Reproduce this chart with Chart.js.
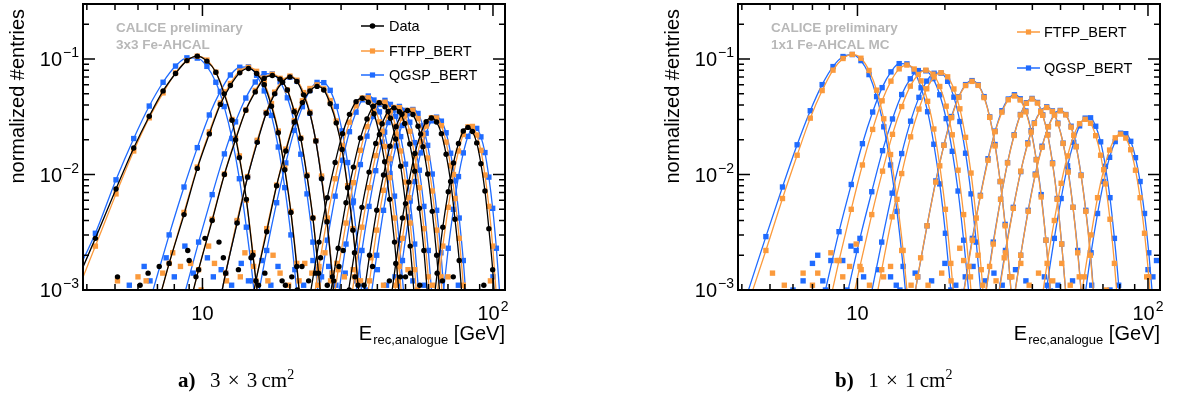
<!DOCTYPE html>
<html>
<head>
<meta charset="utf-8">
<script src="https://cdn.jsdelivr.net/npm/chart.js@4.4.0/dist/chart.umd.min.js"></script>
<style>
    body { margin: 0; background: #fff; width: 1179px; height: 405px; overflow: hidden; position: relative; }
    canvas { position: absolute; left: 0; top: 0; }
    .cap { position: absolute; top: 367px; font-family: "Liberation Serif", "DejaVu Serif", serif; font-size: 21px; white-space: nowrap; word-spacing: 2px; }
    .cap sup { font-size: 14px; }
</style>
</head>
<body>
<canvas id="panelA" width="1179" height="405"></canvas>
<canvas id="panelB" width="1179" height="405"></canvas>
<div class="cap" style="left:178px"><b>a)</b>&nbsp; 3 × 3&thinsp;cm<sup>2</sup></div>
<div class="cap" style="left:835px"><b>b)</b>&nbsp; 1 × 1&thinsp;cm<sup>2</sup></div>
<script>
// beam energies (GeV), one histogram per energy
const energies = [10, 15, 18, 20, 25, 35, 40, 45, 50, 60, 80];

// axis ticks
const xMajorTicks = [10, 100];
const xTickExp = ['', '2'];
const xMinorTicks = [4, 5, 6, 7, 8, 9, 20, 30, 40, 50, 60, 70, 80, 90];
const yMajorTicks = [0.001, 0.01, 0.1];
const yTickExp = ['\u22123', '\u22122', '\u22121'];
const yMinorTicks = [0.002, 0.003, 0.004, 0.005, 0.006, 0.007, 0.008, 0.009,
    0.02, 0.03, 0.04, 0.05, 0.06, 0.07, 0.08, 0.09, 0.2, 0.3];

// ---- a) 3x3 Fe-AHCAL : bin centres [GeV] ----
const binsA = [
    [3.52, 4.28, 5.04, 5.80, 6.56, 7.32, 8.08, 8.84, 9.60, 10.36, 11.12, 11.88, 12.64, 13.40, 14.16, 14.92, 15.68],
    [6.72, 7.68, 8.64, 9.60, 10.56, 11.52, 12.48, 13.44, 14.40, 15.36, 16.32, 17.28, 18.24, 19.20, 20.16, 21.12, 22.08],
    [8.6, 9.7, 10.8, 11.9, 13.0, 14.1, 15.2, 16.3, 17.4, 18.5, 19.6, 20.7, 21.8, 22.9, 24.0, 25.1, 26.2],
    [10.88, 12.02, 13.16, 14.30, 15.44, 16.58, 17.72, 18.86, 20.00, 21.14, 22.28, 23.42, 24.56, 25.70, 26.84, 27.98, 29.12],
    [13.92, 15.28, 16.64, 18.00, 19.36, 20.72, 22.08, 23.44, 24.80, 26.16, 27.52, 28.88, 30.24, 31.60, 32.96, 34.32, 35.68],
    [21.74, 23.46, 25.18, 26.90, 28.62, 30.34, 32.06, 33.78, 35.50, 37.22, 38.94, 40.66, 42.38, 44.10, 45.82, 47.54, 49.26],
    [25.56, 27.44, 29.32, 31.20, 33.08, 34.96, 36.84, 38.72, 40.60, 42.48, 44.36, 46.24, 48.12, 50.00, 51.88, 53.76, 55.64],
    [29.28, 31.32, 33.36, 35.40, 37.44, 39.48, 41.52, 43.56, 45.60, 47.64, 49.68, 51.72, 53.76, 55.80, 57.84, 59.88, 61.92],
    [33.2, 35.4, 37.6, 39.8, 42.0, 44.2, 46.4, 48.6, 50.8, 53.0, 55.2, 57.4, 59.6, 61.8, 64.0, 66.2, 68.4],
    [41.24, 43.76, 46.28, 48.80, 51.32, 53.84, 56.36, 58.88, 61.40, 63.92, 66.44, 68.96, 71.48, 74.00, 76.52, 79.04, 81.56],
    [58.32, 61.28, 64.24, 67.20, 70.16, 73.12, 76.08, 79.04, 82.00, 84.96, 87.92, 90.88, 93.84, 96.80, 99.76, 102.72, 105.68]
];
const dataA = [
    [.0009, .0028, .0075, .0170, .032, .053, .075, .097, .106, .096, .077, .050, .0295, .014, .0061, .0020, .0007],
    [.0005, .0017, .0045, .0113, .0225, .0405, .059, .076, .083, .075, .060, .039, .023, .011, .0047, .0016, .0005],
    [.00045, .0015, .0040, .0100, .0200, .036, .052, .068, .072, .067, .054, .035, .0205, .0097, .0042, .0014, .00045],
    [.0004, .0014, .0038, .0095, .019, .034, .050, .063, .070, .064, .049, .034, .0195, .0092, .0039, .0013, .0004],
    [.00035, .0012, .0032, .0080, .016, .0285, .042, .053, .058, .054, .041, .028, .0165, .0077, .0033, .0011, .00035],
    [.0003, .0009, .0026, .0063, .0127, .0226, .0332, .0428, .0458, .0423, .0336, .0222, .0129, .0061, .0026, .0009, .0003],
    [.00025, .00085, .0023, .0057, .0116, .0207, .0303, .0390, .0418, .0386, .0307, .0203, .0118, .0056, .0024, .0008, .00025],
    [.00023, .00076, .0021, .0052, .0105, .0186, .0275, .0352, .0378, .0350, .0277, .0184, .0107, .0051, .0022, .00074, .00023],
    [.00022, .0007, .0020, .0049, .0099, .0176, .0260, .0333, .0359, .0331, .0262, .0174, .0101, .0048, .0020, .0007, .00022],
    [.00019, .0006, .0017, .0042, .0086, .0152, .0224, .0287, .0309, .0285, .0226, .0150, .0087, .0041, .0018, .0006, .00019],
    [.00016, .0005, .0014, .0035, .0071, .0126, .0186, .0238, .0256, .0236, .0188, .0124, .0072, .0034, .0015, .0005, .00016]
];
const ftfpA = [
    [.0007, .0024, .0068, .0160, .031, .051, .076, .097, .106, .098, .077, .052, .030, .0145, .0060, .0021, .00065],
    [.0005, .0017, .0047, .0116, .0234, .0416, .0615, .0787, .0848, .0783, .0619, .0412, .0238, .0114, .0048, .0017, .0005],
    [.00044, .0015, .0041, .0101, .0205, .0362, .0535, .0685, .0738, .0681, .0539, .0358, .0207, .0099, .0042, .0015, .00044],
    [.00042, .0014, .0040, .0096, .0198, .0345, .0517, .0653, .0712, .0656, .0513, .0347, .0196, .0097, .0040, .0014, .00042],
    [.00036, .0012, .0034, .0081, .0166, .0293, .0435, .0556, .0598, .0552, .0437, .0291, .0168, .0080, .0034, .0012, .00036],
    [.00015, .00052, .0016, .0042, .0092, .0177, .0284, .0394, .0460, .0462, .0391, .0286, .0175, .0094, .0042, .0016, .00052],
    [.00013, .00048, .0015, .0038, .0085, .0162, .0260, .0360, .0420, .0423, .0358, .0262, .0160, .0086, .0038, .0015, .00048],
    [.00012, .00043, .0013, .0035, .0077, .0146, .0235, .0325, .0381, .0379, .0323, .0237, .0145, .0077, .0034, .0013, .00043],
    [.00011, .00041, .0012, .0033, .0073, .0137, .0224, .0307, .0359, .0361, .0305, .0222, .0139, .0072, .0033, .0013, .00041],
    [.0001, .00035, .0011, .0028, .0063, .0118, .0193, .0263, .0311, .0309, .0265, .0191, .0119, .0062, .0028, .0011, .00035],
    [.00008, .0003, .0009, .0024, .0052, .0100, .0160, .0222, .0259, .0261, .0220, .0162, .0099, .0053, .0024, .0009, .0003]
];
const qgspA = [
    [.0011, .0031, .0090, .0205, .0392, .0630, .0870, .1025, .1020, .0865, .0630, .0388, .0205, .0092, .0035, .0012, .00032],
    [.00095, .0030, .0078, .0171, .0328, .0525, .0728, .0850, .0856, .0724, .0530, .0325, .0173, .0077, .0030, .00096, .00027],
    [.00085, .0026, .0067, .0151, .0286, .0460, .0633, .0747, .0743, .0636, .0462, .0284, .0150, .0068, .0026, .00083, .00023],
    [.00042, .0014, .0039, .0095, .0194, .0342, .0507, .0648, .0698, .0645, .0509, .0340, .0196, .0094, .0039, .0014, .00042],
    [.0002, .0007, .0022, .0057, .0126, .0241, .0387, .0535, .0628, .0625, .0536, .0389, .0239, .0127, .0057, .0022, .0007],
    [.00007, .00029, .00095, .0027, .0065, .0133, .0235, .0347, .0444, .0479, .0442, .0349, .0233, .0134, .0065, .0027, .00095],
    [.00007, .00026, .00087, .0025, .0059, .0122, .0215, .0318, .0407, .0439, .0405, .0320, .0213, .0123, .0059, .0025, .00087],
    [.00006, .00023, .00077, .0022, .0053, .0108, .0191, .0282, .0361, .0389, .0359, .0284, .0189, .0109, .0053, .0022, .00077],
    [.00006, .00022, .00072, .0020, .0049, .0102, .0177, .0266, .0336, .0366, .0338, .0264, .0179, .0101, .0049, .0021, .00072],
    [.00005, .00019, .00062, .0018, .0043, .0087, .0154, .0228, .0292, .0314, .0290, .0230, .0153, .0088, .0042, .0018, .00062],
    [.00002, .00008, .00028, .00087, .0023, .0050, .0096, .0154, .0214, .0249, .0251, .0212, .0155, .0095, .0051, .0023, .00087]
];
// low-statistics entries in the tails, [E, entries]
const tailDataA = [[5.1, .0013], [6.1, .0011], [6.5, .0014], [7.1, .0016], [8.9, .0022], [9.0, .0018], [9.5, .0013],
    [10.2, .0028], [11.4, .0026], [11.8, .0019], [13.3, .0015], [14.7, .0019], [15.6, .0011], [16.4, .0014],
    [18.8, .0012], [19.3, .0011], [20.3, .0013], [21.2, .0010], [22.0, .0016], [23.2, .0012], [24.5, .0014],
    [25.5, .0019], [26.9, .0011], [28.3, .0012], [29.5, .0016], [30.5, .0022], [32, .0010], [33.5, .0013],
    [36, .0011], [38.5, .0016], [44, .0012], [48, .0013], [50, .0013], [52, .0014], [56, .0011], [67, .0012],
    [73, .0013], [93, .0011]];
const tailFtfpA = [[5.1, .0012], [6.0, .0013], [6.4, .0012], [7.3, .0014], [7.9, .0021], [8.4, .0016], [9.1, .0017],
    [9.9, .0010], [10.5, .0024], [11.0, .0017], [12.1, .0012], [13.5, .0013], [14.0, .0021], [15.0, .0016],
    [16.8, .0012], [17.5, .0020], [18.5, .0014], [19.8, .0011], [21.5, .0012], [22.5, .0017], [23.8, .0014],
    [25.0, .0011], [26.4, .0021], [27.6, .0012], [29.0, .0017], [30.8, .0013], [33.0, .0015], [35.0, .0012],
    [38.0, .0019], [42.0, .0011], [47, .0012], [51, .0015], [55, .0010], [62, .0011], [70, .0013], [98, .0012]];
const tailQgspA = [[5.6, .0011], [6.3, .0016], [6.6, .0012], [7.5, .0019], [8.0, .0013], [8.7, .0024], [9.3, .0014],
    [10.4, .0019], [10.9, .0013], [11.6, .0015], [12.6, .0011], [13.6, .0017], [14.4, .0012], [16.0, .0018],
    [17.2, .0011], [18.2, .0016], [20.8, .0015], [22.3, .0011], [24.0, .0018], [25.7, .0013], [27.2, .0016],
    [28.8, .0011], [31.0, .0014], [33.8, .0012], [36.5, .0010], [40.0, .0015], [43, .0011], [46, .0013],
    [53, .0012], [58, .0011], [66, .0012], [76, .0011], [100, .0013]];

// ---- b) 1x1 Fe-AHCAL MC ----
const binsB = [
    [4.16, 4.84, 5.52, 6.20, 6.88, 7.56, 8.24, 8.92, 9.60, 10.28, 10.96, 11.64, 12.32, 13.00, 13.68, 14.36, 15.04],
    [7.76, 8.64, 9.52, 10.40, 11.28, 12.16, 13.04, 13.92, 14.80, 15.68, 16.56, 17.44, 18.32, 19.20, 20.08, 20.96, 21.84],
    [9.2, 10.2, 11.2, 12.2, 13.2, 14.2, 15.2, 16.2, 17.2, 18.2, 19.2, 20.2, 21.2, 22.2, 23.2, 24.2, 25.2],
    [11.08, 12.12, 13.16, 14.20, 15.24, 16.28, 17.32, 18.36, 19.40, 20.44, 21.48, 22.52, 23.56, 24.60, 25.64, 26.68, 27.72],
    [14.88, 16.12, 17.36, 18.60, 19.84, 21.08, 22.32, 23.56, 24.80, 26.04, 27.28, 28.52, 29.76, 31.00, 32.24, 33.48, 34.72],
    [21.58, 23.22, 24.86, 26.50, 28.14, 29.78, 31.42, 33.06, 34.70, 36.34, 37.98, 39.62, 41.26, 42.90, 44.54, 46.18, 47.82],
    [25.82, 27.58, 29.34, 31.10, 32.86, 34.62, 36.38, 38.14, 39.90, 41.66, 43.42, 45.18, 46.94, 48.70, 50.46, 52.22, 53.98],
    [28.16, 30.24, 32.32, 34.40, 36.48, 38.56, 40.64, 42.72, 44.80, 46.88, 48.96, 51.04, 53.12, 55.20, 57.28, 59.36, 61.44],
    [31.98, 34.22, 36.46, 38.70, 40.94, 43.18, 45.42, 47.66, 49.90, 52.14, 54.38, 56.62, 58.86, 61.10, 63.34, 65.58, 67.82],
    [39.68, 42.32, 44.96, 47.60, 50.24, 52.88, 55.52, 58.16, 60.80, 63.44, 66.08, 68.72, 71.36, 74.00, 76.64, 79.28, 81.92],
    [53.62, 56.98, 60.34, 63.70, 67.06, 70.42, 73.78, 77.14, 80.50, 83.86, 87.22, 90.58, 93.94, 97.30, 100.66, 104.02, 107.38]
];
const ftfpB = [
    [.0007, .0022, .0062, .0147, .0308, .0534, .0802, .1012, .1098, .1017, .0797, .0538, .0304, .0149, .0061, .0022, .00065],
    [.00053, .0018, .0050, .0121, .0246, .0435, .0644, .0823, .0888, .0820, .0648, .0431, .0248, .0119, .0050, .0017, .00053],
    [.00048, .0016, .0045, .0107, .0223, .0388, .0583, .0736, .0802, .0740, .0579, .0391, .0221, .0109, .0045, .0016, .00048],
    [.00045, .0015, .0043, .0102, .0212, .0369, .0553, .0700, .0762, .0702, .0551, .0371, .0210, .0103, .0042, .0015, .00045],
    [.00038, .0013, .0036, .0086, .0179, .0311, .0466, .0590, .0641, .0592, .0464, .0313, .0177, .0087, .0036, .0013, .00038],
    [.00029, .00095, .0027, .0065, .0133, .0235, .0347, .0444, .0479, .0442, .0349, .0233, .0134, .0064, .0027, .00095, .00029],
    [.00027, .0009, .0025, .0061, .0126, .0218, .0328, .0414, .0451, .0416, .0326, .0220, .0124, .0061, .0025, .0009, .00027],
    [.00023, .00075, .0021, .0051, .0107, .0184, .0277, .0350, .0381, .0352, .0275, .0186, .0105, .0052, .0021, .00076, .00023],
    [.00021, .0007, .0020, .0048, .0099, .0172, .0259, .0327, .0356, .0329, .0257, .0174, .0098, .0048, .0020, .0007, .00021],
    [.00018, .0006, .0017, .0040, .0084, .0145, .0219, .0276, .0301, .0278, .0217, .0147, .0083, .0041, .0017, .0006, .00018],
    [.00014, .00045, .0013, .0030, .0063, .0110, .0163, .0208, .0224, .0207, .0164, .0109, .0063, .0031, .0013, .00045, .00014]
];
const qgspB = [
    [.0009, .0029, .0078, .0181, .0357, .0601, .0861, .1052, .1095, .0970, .0734, .0473, .0259, .0121, .0048, .0016, .00047],
    [.0010, .0032, .0082, .0185, .0348, .0566, .0775, .0913, .0909, .0778, .0564, .0350, .0183, .0083, .0031, .0010, .00029],
    [.0009, .0028, .0071, .0161, .0303, .0493, .0675, .0795, .0792, .0677, .0491, .0305, .0159, .0072, .0027, .0009, .00025],
    [.00085, .0026, .0069, .0152, .0290, .0466, .0644, .0754, .0756, .0642, .0468, .0288, .0153, .0068, .0026, .00085, .00024],
    [.00039, .0013, .0036, .0088, .0180, .0318, .0471, .0601, .0651, .0599, .0473, .0316, .0182, .0087, .0037, .0013, .00039],
    [.00029, .00097, .0028, .0066, .0137, .0238, .0357, .0451, .0491, .0453, .0355, .0240, .0135, .0067, .0027, .00098, .00029],
    [.00027, .0009, .0026, .0061, .0127, .0221, .0331, .0419, .0456, .0421, .0329, .0222, .0126, .0062, .0025, .0009, .00027],
    [.00023, .00076, .0022, .0052, .0106, .0188, .0280, .0354, .0386, .0356, .0279, .0187, .0108, .0052, .0022, .00075, .00023],
    [.00022, .00072, .0020, .0049, .0101, .0176, .0260, .0333, .0359, .0331, .0262, .0175, .0099, .0049, .0021, .0007, .00022],
    [.0001, .00035, .0011, .0028, .0062, .0119, .0190, .0264, .0308, .0310, .0262, .0192, .0118, .0063, .0028, .0011, .00035],
    [.00007, .00026, .0008, .0021, .0046, .0087, .0141, .0193, .0228, .0226, .0194, .0140, .0087, .0046, .0021, .0008, .00026]
];
const tailFtfpB = [[5.1, .0014], [5.6, .0011], [6.5, .0014], [7.0, .0011], [7.3, .0014], [8.1, .0021], [8.5, .0018],
    [8.9, .0013], [9.4, .0016], [9.9, .0025], [10.3, .0015], [11.0, .0011], [12.3, .0013], [13.0, .0016],
    [14.2, .0022], [15.3, .0011], [16.5, .0019], [17.5, .0011], [19.5, .0014], [21.0, .0012], [22.5, .0023],
    [23.2, .0018], [24.5, .0013], [26.0, .0020], [27.0, .0011], [28.5, .0016], [30.0, .0012], [32.0, .0019],
    [34.0, .0013], [36.5, .0017], [39.0, .0011], [42.0, .0014], [47.0, .0012], [50.5, .0017], [54, .0011],
    [58, .0013], [72, .0010], [99, .0013]];
const tailQgspB = [[6.0, .0010], [6.5, .0012], [7.0, .0017], [7.3, .0020], [7.6, .0012], [8.1, .0018], [8.9, .0018],
    [9.2, .0010], [9.5, .0024], [9.9, .0022], [10.5, .0013], [11.8, .0015], [13.0, .0013], [13.6, .0011],
    [14.0, .0010], [15.8, .0014], [18.0, .0012], [20.0, .0017], [21.8, .0011], [23.5, .0013], [25.0, .0016],
    [27.5, .0012], [29.5, .0014], [31.5, .0011], [35, .0015], [38, .0012], [44, .0013], [49, .0011],
    [55, .0012], [64, .0011], [74, .0010], [100, .0015], [104, .0013], [107, .0018]];

const BLACK = '#000000';
const ORANGE = '#fb9a3c';
const BLUE = '#1f6bff';
const SANS = '"Liberation Sans", Arial, Helvetica, sans-serif';

function histSets(bins, values, color, style, order) {
    return values.map((ys, i) => ({
        label: String(energies[i]),
        data: bins[i].map((x, j) => ({x: x, y: ys[j]})),
        showLine: true,
        borderColor: color,
        borderWidth: 1.3,
        tension: 0.3,
        cubicInterpolationMode: 'monotone',
        pointStyle: style,
        pointRadius: style === 'circle' ? 2.7 : 3.8,
        pointBackgroundColor: color,
        pointBorderWidth: 0,
        order: order,
        clip: 0
    }));
}

function tailSet(points, color, style, order) {
    return {
        data: points.map(p => ({x: p[0], y: p[1]})),
        showLine: false,
        pointStyle: style,
        pointRadius: style === 'circle' ? 2.7 : 3.8,
        pointBackgroundColor: color,
        pointBorderWidth: 0,
        order: order,
        clip: 0
    };
}

function powerLabel(ctx, exp, x, y, align) {
    ctx.font = '20px ' + SANS;
    const wb = ctx.measureText('10').width;
    ctx.font = '14px ' + SANS;
    const we = exp ? ctx.measureText(exp).width + 1 : 0;
    const x0 = align === 'right' ? x - wb - we : x - (wb + we) / 2;
    ctx.textAlign = 'left';
    ctx.textBaseline = 'alphabetic';
    ctx.font = '20px ' + SANS;
    ctx.fillText('10', x0, y);
    if (exp) {
        ctx.font = '14px ' + SANS;
        ctx.fillText(exp, x0 + wb + 1, y - 9);
    }
}

const rootAxes = {
    id: 'rootAxes',
    afterDatasetsDraw(chart, args, o) {
        const ctx = chart.ctx, a = chart.chartArea;
        const xs = chart.scales.x, ys = chart.scales.y;
        ctx.save();
        ctx.strokeStyle = '#000';
        ctx.lineWidth = 1.5;
        ctx.beginPath();
        const yTick = (v, len) => {
            const p = ys.getPixelForValue(v);
            ctx.moveTo(a.left, p); ctx.lineTo(a.left + len, p);
            ctx.moveTo(a.right, p); ctx.lineTo(a.right - len, p);
        };
        const xTick = (v, len) => {
            const p = xs.getPixelForValue(v);
            ctx.moveTo(p, a.bottom); ctx.lineTo(p, a.bottom - len);
            ctx.moveTo(p, a.top); ctx.lineTo(p, a.top + len);
        };
        yMajorTicks.forEach(v => yTick(v, 12));
        yMinorTicks.forEach(v => yTick(v, 6));
        xMajorTicks.forEach(v => xTick(v, 12));
        xMinorTicks.forEach(v => xTick(v, 6));
        ctx.stroke();
        ctx.lineWidth = 2;
        ctx.strokeRect(a.left, a.top, a.right - a.left, a.bottom - a.top);

        ctx.fillStyle = '#000';
        yMajorTicks.forEach((v, i) => powerLabel(ctx, yTickExp[i], a.left - 4, ys.getPixelForValue(v) + 7, 'right'));
        xMajorTicks.forEach((v, i) => powerLabel(ctx, xTickExp[i], xs.getPixelForValue(v), 320, 'center'));

        // axis titles
        ctx.save();
        ctx.translate(a.left - 65, a.top + 5);
        ctx.rotate(-Math.PI / 2);
        ctx.font = '20px ' + SANS;
        ctx.textAlign = 'right';
        ctx.textBaseline = 'middle';
        ctx.fillText('normalized #entries', 0, 0);
        ctx.restore();

        ctx.textAlign = 'left';
        ctx.textBaseline = 'alphabetic';
        ctx.font = '20px ' + SANS;
        const wU = ctx.measureText(' [GeV]').width;
        const wE = ctx.measureText('E').width;
        ctx.font = '13px ' + SANS;
        const wS = ctx.measureText('rec,analogue').width;
        let tx = a.right - wU - wS - wE - 1;
        ctx.font = '20px ' + SANS;
        ctx.fillText('E', tx, 340);
        ctx.font = '13px ' + SANS;
        ctx.fillText('rec,analogue', tx + wE + 1, 344);
        ctx.font = '20px ' + SANS;
        ctx.fillText(' [GeV]', tx + wE + wS + 1, 340);

        // preliminary label
        ctx.fillStyle = '#b8b8b8';
        ctx.font = 'bold 13.5px ' + SANS;
        ctx.textBaseline = 'middle';
        o.notes.forEach((t, i) => ctx.fillText(t, a.left + 33, 28 + 17 * i));

        // legend
        ctx.font = '14.5px ' + SANS;
        o.legend.forEach(item => {
            const [x1, x2, xt] = o.legendX;
            ctx.strokeStyle = item.color;
            ctx.fillStyle = item.color;
            ctx.lineWidth = 1.5;
            ctx.beginPath();
            ctx.moveTo(x1, item.y); ctx.lineTo(x2, item.y);
            ctx.stroke();
            const mx = (x1 + x2) / 2;
            if (item.style === 'circle') {
                ctx.beginPath();
                ctx.arc(mx, item.y, 2.8, 0, Math.PI * 2);
                ctx.fill();
            } else {
                ctx.fillRect(mx - 2.6, item.y - 2.6, 5.2, 5.2);
            }
            ctx.fillStyle = '#000';
            ctx.fillText(item.text, xt, item.y + 1);
        });
        ctx.restore();
    }
};

function makePanel(canvasId, sets, pad, legend, legendX, notes) {
    return new Chart(document.getElementById(canvasId), {
        type: 'scatter',
        data: {datasets: sets},
        options: {
            responsive: false,
            animation: false,
            devicePixelRatio: 1,
            events: [],
            layout: {padding: pad},
            scales: {
                x: {type: 'logarithmic', min: 3.88, max: 110, display: false},
                y: {type: 'logarithmic', min: 0.001, max: 0.3, display: false}
            },
            plugins: {
                legend: {display: false},
                tooltip: {enabled: false},
                rootAxes: {legend: legend, legendX: legendX, notes: notes}
            }
        },
        plugins: [rootAxes]
    });
}

makePanel('panelA',
    [].concat(
        histSets(binsA, dataA, BLACK, 'circle', 0),
        [tailSet(tailDataA, BLACK, 'circle', 0)],
        histSets(binsA, ftfpA, ORANGE, 'rect', 1),
        [tailSet(tailFtfpA, ORANGE, 'rect', 1)],
        histSets(binsA, qgspA, BLUE, 'rect', 2),
        [tailSet(tailQgspA, BLUE, 'rect', 2)]
    ),
    {left: 83, top: 3, right: 674, bottom: 115},
    [
        {text: 'Data', color: BLACK, style: 'circle', y: 26},
        {text: 'FTFP_BERT', color: ORANGE, style: 'rect', y: 51},
        {text: 'QGSP_BERT', color: BLUE, style: 'rect', y: 75}
    ],
    [361, 384, 389],
    ['CALICE preliminary', '3x3 Fe-AHCAL']
);

makePanel('panelB',
    [].concat(
        histSets(binsB, ftfpB, ORANGE, 'rect', 1),
        [tailSet(tailFtfpB, ORANGE, 'rect', 1)],
        histSets(binsB, qgspB, BLUE, 'rect', 2),
        [tailSet(tailQgspB, BLUE, 'rect', 2)]
    ),
    {left: 738, top: 3, right: 19, bottom: 115},
    [
        {text: 'FTFP_BERT', color: ORANGE, style: 'rect', y: 32},
        {text: 'QGSP_BERT', color: BLUE, style: 'rect', y: 68}
    ],
    [1017, 1040, 1044],
    ['CALICE preliminary', '1x1 Fe-AHCAL MC']
);
</script>
</body>
</html>
